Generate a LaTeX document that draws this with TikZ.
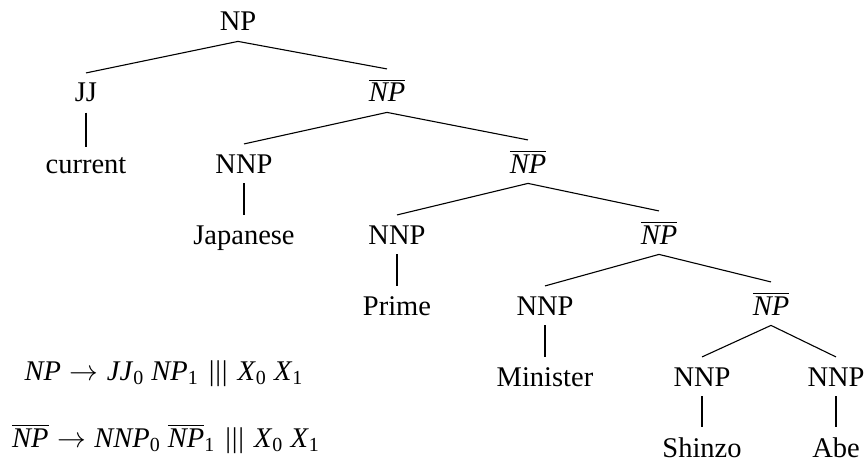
\documentclass[tikz,border=0pt]{standalone}
\usepackage{fontspec}
\setmainfont{Liberation Serif}
\newcommand\nbar{$\overline{\mbox{\textit{NP}}}$}
\newcommand\rarr{\hspace{0.3em}$\rightarrow$\hspace{0.3em}}
\newcommand\tbars{\hspace{0.1em}|\hspace{0.03em}|\hspace{0.03em}|\hspace{0.1em}}
\begin{document}
\begin{tikzpicture}[x=0.5pt,y=-0.5pt,
  lbl/.style={font=\fontsize{14.25}{17}\selectfont, inner sep=5pt, anchor=base},
  edge/.style={draw, line width=0.55pt}]
\useasboundingbox (0,0) rectangle (867,465);
\node[lbl] (np)  at (238,31)  {NP};
\node[lbl] (jj)  at (86,102)  {JJ};
\node[lbl] (b1)  at (387,102) {\nbar};
\node[lbl] (cur) at (86,173)  {current};
\node[lbl] (n1)  at (244,173) {NNP};
\node[lbl] (b2)  at (528,173) {\nbar};
\node[lbl] (jap) at (244,244) {Japanese};
\node[lbl] (n2)  at (397,244) {NNP};
\node[lbl] (b3)  at (659,244) {\nbar};
\node[lbl] (pri) at (397,315) {Prime};
\node[lbl] (n3)  at (545,315) {NNP};
\node[lbl] (b4)  at (771,315) {\nbar};
\node[lbl] (min) at (545,386) {Minister};
\node[lbl] (n4)  at (702,386) {NNP};
\node[lbl] (n5)  at (836,386) {NNP};
\node[lbl] (shi) at (702,457) {Shinzo};
\node[lbl] (abe) at (836,457) {Abe};
\path[edge] (np.south) -- (jj.north);
\path[edge] (np.south) -- (b1.north);
\path[edge] (jj.south) -- (cur.north);
\path[edge] (b1.south) -- (n1.north);
\path[edge] (b1.south) -- (b2.north);
\path[edge] (n1.south) -- (jap.north);
\path[edge] (b2.south) -- (n2.north);
\path[edge] (b2.south) -- (b3.north);
\path[edge] (n2.south) -- (pri.north);
\path[edge] (b3.south) -- (n3.north);
\path[edge] (b3.south) -- (b4.north);
\path[edge] (n3.south) -- (min.north);
\path[edge] (b4.south) -- (n4.north);
\path[edge] (b4.south) -- (n5.north);
\path[edge] (n4.south) -- (shi.north);
\path[edge] (n5.south) -- (abe.north);
\node[lbl] (r1) at (164,380) {\textit{NP}\rarr\textit{JJ}\textsubscript{0} \textit{NP}\textsubscript{1} \tbars\ \textit{X}\textsubscript{0} \textit{X}\textsubscript{1}};
\node[lbl] (r2) at (166,447) {\nbar\rarr\textit{NNP}\textsubscript{0} \nbar\textsubscript{1} \tbars\ \textit{X}\textsubscript{0} \textit{X}\textsubscript{1}};
\end{tikzpicture}
\end{document}
